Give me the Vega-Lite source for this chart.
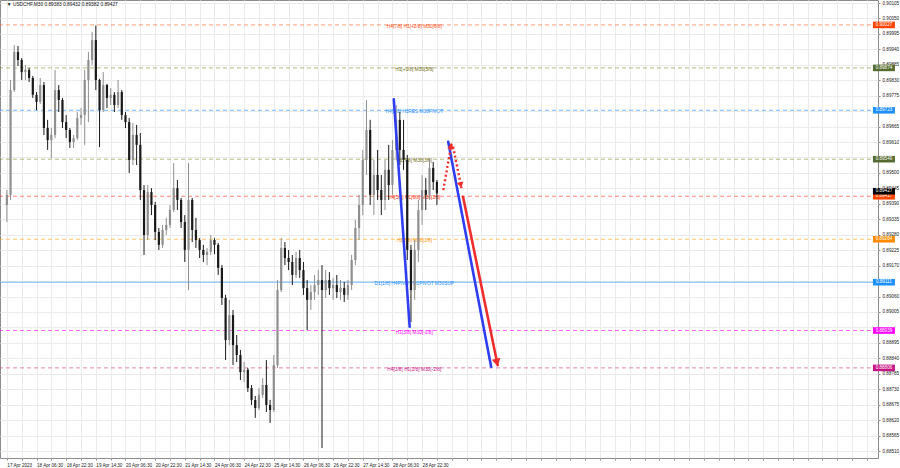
{
  "$schema": "https://vega.github.io/schema/vega-lite/v6.json",
  "width": 878,
  "height": 458,
  "autosize": {"type": "none"},
  "padding": {"left": 0, "top": 0, "right": 22, "bottom": 10},
  "background": "white",
  "config": {"view": {"stroke": "#8c8c8c", "strokeWidth": 1}, "font": "Liberation Sans", "axis": {"labelOverlap": false, "labelFontSize": 4.6, "labelFont": "Liberation Sans", "labelColor": "#222222", "tickCount": 200}},
  "datasets": {
    "levels": [
      {"name": "L1", "p": 0.90027, "label": "H4[7/8] H1[+2/8] M30[6/8]"},
      {"name": "L2", "p": 0.89874, "label": "H1[+1/8] M30[5/8]"},
      {"name": "L3", "p": 0.89723, "label": "H4[6/8] H1RES M30PIVOT"},
      {"name": "L4", "p": 0.89549, "label": "H1[7/8] M30[3/8]"},
      {"name": "L5", "p": 0.89417, "label": "H4[5/8] H1[6/8] M30[2/8]"},
      {"name": "L6", "p": 0.89264, "label": "H1[5/8] M30[1/8]"},
      {"name": "L7", "p": 0.89111, "label": "D1[1/8] H4PIVOT H1PIVOT M30SUP"},
      {"name": "L8", "p": 0.88939, "label": "H1[3/8] M30[-1/8]"},
      {"name": "L9", "p": 0.88806, "label": "H4[3/8] H1[2/8] M30[-2/8]"}
    ],
    "tags": [
      {"name": "L1", "p": 0.90027},
      {"name": "L2", "p": 0.89874},
      {"name": "L3", "p": 0.89723},
      {"name": "L4", "p": 0.89549},
      {"name": "L5", "p": 0.89417},
      {"name": "L6", "p": 0.89264},
      {"name": "L7", "p": 0.89111},
      {"name": "L8", "p": 0.88939},
      {"name": "L9", "p": 0.88806}
    ],
    "cur": [
      {"name": "CUR", "p": 0.89427}
    ],
    "candles": [
      {"x": 2, "o": 0.89386, "h": 0.89439, "l": 0.89325, "c": 0.89422},
      {"x": 6, "o": 0.89422, "h": 0.89831, "l": 0.89404, "c": 0.89795},
      {"x": 10, "o": 0.89795, "h": 0.89955, "l": 0.89788, "c": 0.89931},
      {"x": 14, "o": 0.89931, "h": 0.89952, "l": 0.89881, "c": 0.89902},
      {"x": 18, "o": 0.89902, "h": 0.89909, "l": 0.89831, "c": 0.89859},
      {"x": 22, "o": 0.89859, "h": 0.89884, "l": 0.89831, "c": 0.89867},
      {"x": 26, "o": 0.89867, "h": 0.89874, "l": 0.89824, "c": 0.89838},
      {"x": 30, "o": 0.89838, "h": 0.89845, "l": 0.89767, "c": 0.89778},
      {"x": 34, "o": 0.89778, "h": 0.89788, "l": 0.89724, "c": 0.89753},
      {"x": 38, "o": 0.89753, "h": 0.89838, "l": 0.89745, "c": 0.89813},
      {"x": 42, "o": 0.89813, "h": 0.89824, "l": 0.89635, "c": 0.89660},
      {"x": 46, "o": 0.89660, "h": 0.89689, "l": 0.89582, "c": 0.89617},
      {"x": 50, "o": 0.89617, "h": 0.89660, "l": 0.89553, "c": 0.89635},
      {"x": 54, "o": 0.89635, "h": 0.89867, "l": 0.89624, "c": 0.89795},
      {"x": 58, "o": 0.89795, "h": 0.89813, "l": 0.89717, "c": 0.89760},
      {"x": 62, "o": 0.89760, "h": 0.89767, "l": 0.89660, "c": 0.89681},
      {"x": 66, "o": 0.89681, "h": 0.89706, "l": 0.89624, "c": 0.89653},
      {"x": 70, "o": 0.89653, "h": 0.89660, "l": 0.89589, "c": 0.89610},
      {"x": 74, "o": 0.89610, "h": 0.89635, "l": 0.89589, "c": 0.89624},
      {"x": 78, "o": 0.89624, "h": 0.89717, "l": 0.89617, "c": 0.89696},
      {"x": 82, "o": 0.89696, "h": 0.89731, "l": 0.89671, "c": 0.89706},
      {"x": 86, "o": 0.89706, "h": 0.89867, "l": 0.89600, "c": 0.89831},
      {"x": 90, "o": 0.89831, "h": 0.89931, "l": 0.89681, "c": 0.89902},
      {"x": 94, "o": 0.89902, "h": 0.90002, "l": 0.89884, "c": 0.89973},
      {"x": 98, "o": 0.89973, "h": 0.90025, "l": 0.89795, "c": 0.89831},
      {"x": 102, "o": 0.89831, "h": 0.89835, "l": 0.89592, "c": 0.89724},
      {"x": 106, "o": 0.89724, "h": 0.89859, "l": 0.89717, "c": 0.89813},
      {"x": 110, "o": 0.89813, "h": 0.89817, "l": 0.89731, "c": 0.89767},
      {"x": 114, "o": 0.89767, "h": 0.89802, "l": 0.89742, "c": 0.89778},
      {"x": 118, "o": 0.89778, "h": 0.89788, "l": 0.89717, "c": 0.89742},
      {"x": 122, "o": 0.89742, "h": 0.89831, "l": 0.89731, "c": 0.89788},
      {"x": 126, "o": 0.89788, "h": 0.89795, "l": 0.89689, "c": 0.89706},
      {"x": 130, "o": 0.89706, "h": 0.89717, "l": 0.89660, "c": 0.89681},
      {"x": 134, "o": 0.89681, "h": 0.89696, "l": 0.89500, "c": 0.89546},
      {"x": 138, "o": 0.89546, "h": 0.89678, "l": 0.89528, "c": 0.89635},
      {"x": 142, "o": 0.89635, "h": 0.89671, "l": 0.89528, "c": 0.89600},
      {"x": 146, "o": 0.89600, "h": 0.89642, "l": 0.89404, "c": 0.89439},
      {"x": 150, "o": 0.89439, "h": 0.89457, "l": 0.89208, "c": 0.89279},
      {"x": 154, "o": 0.89279, "h": 0.89457, "l": 0.89261, "c": 0.89432},
      {"x": 158, "o": 0.89432, "h": 0.89446, "l": 0.89350, "c": 0.89386},
      {"x": 162, "o": 0.89386, "h": 0.89397, "l": 0.89261, "c": 0.89290},
      {"x": 166, "o": 0.89290, "h": 0.89304, "l": 0.89226, "c": 0.89244},
      {"x": 170, "o": 0.89244, "h": 0.89315, "l": 0.89233, "c": 0.89297},
      {"x": 174, "o": 0.89297, "h": 0.89340, "l": 0.89279, "c": 0.89315},
      {"x": 178, "o": 0.89315, "h": 0.89386, "l": 0.89304, "c": 0.89368},
      {"x": 182, "o": 0.89368, "h": 0.89535, "l": 0.89361, "c": 0.89446},
      {"x": 186, "o": 0.89446, "h": 0.89475, "l": 0.89368, "c": 0.89404},
      {"x": 190, "o": 0.89404, "h": 0.89411, "l": 0.89304, "c": 0.89325},
      {"x": 194, "o": 0.89325, "h": 0.89350, "l": 0.89183, "c": 0.89226},
      {"x": 198, "o": 0.89226, "h": 0.89535, "l": 0.89083, "c": 0.89404},
      {"x": 202, "o": 0.89404, "h": 0.89411, "l": 0.89254, "c": 0.89297},
      {"x": 206, "o": 0.89297, "h": 0.89340, "l": 0.89233, "c": 0.89261},
      {"x": 210, "o": 0.89261, "h": 0.89268, "l": 0.89197, "c": 0.89226},
      {"x": 214, "o": 0.89226, "h": 0.89244, "l": 0.89183, "c": 0.89208},
      {"x": 218, "o": 0.89208, "h": 0.89233, "l": 0.89172, "c": 0.89219},
      {"x": 222, "o": 0.89219, "h": 0.89279, "l": 0.89208, "c": 0.89261},
      {"x": 226, "o": 0.89261, "h": 0.89268, "l": 0.89211, "c": 0.89244},
      {"x": 230, "o": 0.89244, "h": 0.89251, "l": 0.89137, "c": 0.89162},
      {"x": 234, "o": 0.89162, "h": 0.89172, "l": 0.89030, "c": 0.89055},
      {"x": 238, "o": 0.89055, "h": 0.89066, "l": 0.88834, "c": 0.88905},
      {"x": 242, "o": 0.88905, "h": 0.89048, "l": 0.88887, "c": 0.88994},
      {"x": 246, "o": 0.88994, "h": 0.89012, "l": 0.88816, "c": 0.88887},
      {"x": 250, "o": 0.88887, "h": 0.88923, "l": 0.88827, "c": 0.88852},
      {"x": 254, "o": 0.88852, "h": 0.88870, "l": 0.88763, "c": 0.88791},
      {"x": 258, "o": 0.88791, "h": 0.88827, "l": 0.88756, "c": 0.88799},
      {"x": 262, "o": 0.88799, "h": 0.88806, "l": 0.88720, "c": 0.88734},
      {"x": 266, "o": 0.88734, "h": 0.88745, "l": 0.88674, "c": 0.88692},
      {"x": 270, "o": 0.88692, "h": 0.88706, "l": 0.88628, "c": 0.88663},
      {"x": 274, "o": 0.88663, "h": 0.88734, "l": 0.88656, "c": 0.88710},
      {"x": 278, "o": 0.88710, "h": 0.88770, "l": 0.88699, "c": 0.88745},
      {"x": 282, "o": 0.88745, "h": 0.88834, "l": 0.88649, "c": 0.88674},
      {"x": 286, "o": 0.88674, "h": 0.88692, "l": 0.88610, "c": 0.88656},
      {"x": 290, "o": 0.88656, "h": 0.88852, "l": 0.88649, "c": 0.88816},
      {"x": 294, "o": 0.88816, "h": 0.89119, "l": 0.88806, "c": 0.89083},
      {"x": 298, "o": 0.89083, "h": 0.89268, "l": 0.89076, "c": 0.89233},
      {"x": 302, "o": 0.89233, "h": 0.89254, "l": 0.89172, "c": 0.89197},
      {"x": 306, "o": 0.89197, "h": 0.89226, "l": 0.89154, "c": 0.89183},
      {"x": 310, "o": 0.89183, "h": 0.89208, "l": 0.89101, "c": 0.89137},
      {"x": 314, "o": 0.89137, "h": 0.89219, "l": 0.89126, "c": 0.89197},
      {"x": 318, "o": 0.89197, "h": 0.89226, "l": 0.89126, "c": 0.89154},
      {"x": 322, "o": 0.89154, "h": 0.89183, "l": 0.89066, "c": 0.89090},
      {"x": 326, "o": 0.89090, "h": 0.89119, "l": 0.88941, "c": 0.89048},
      {"x": 330, "o": 0.89048, "h": 0.89101, "l": 0.89012, "c": 0.89076},
      {"x": 334, "o": 0.89076, "h": 0.89137, "l": 0.89048, "c": 0.89101},
      {"x": 338, "o": 0.89101, "h": 0.89154, "l": 0.89066, "c": 0.89119},
      {"x": 342, "o": 0.89119, "h": 0.89172, "l": 0.88521, "c": 0.89083},
      {"x": 346, "o": 0.89083, "h": 0.89154, "l": 0.89055, "c": 0.89119},
      {"x": 350, "o": 0.89119, "h": 0.89147, "l": 0.89066, "c": 0.89090},
      {"x": 354, "o": 0.89090, "h": 0.89126, "l": 0.89048, "c": 0.89101},
      {"x": 358, "o": 0.89101, "h": 0.89137, "l": 0.89055, "c": 0.89076},
      {"x": 362, "o": 0.89076, "h": 0.89119, "l": 0.89048, "c": 0.89090},
      {"x": 366, "o": 0.89090, "h": 0.89112, "l": 0.89041, "c": 0.89066},
      {"x": 370, "o": 0.89066, "h": 0.89119, "l": 0.89048, "c": 0.89101},
      {"x": 374, "o": 0.89101, "h": 0.89208, "l": 0.89083, "c": 0.89190},
      {"x": 378, "o": 0.89190, "h": 0.89333, "l": 0.89172, "c": 0.89304},
      {"x": 382, "o": 0.89304, "h": 0.89422, "l": 0.89261, "c": 0.89386},
      {"x": 386, "o": 0.89386, "h": 0.89582, "l": 0.89350, "c": 0.89546},
      {"x": 390, "o": 0.89546, "h": 0.89760, "l": 0.89493, "c": 0.89653},
      {"x": 394, "o": 0.89653, "h": 0.89689, "l": 0.89386, "c": 0.89422},
      {"x": 398, "o": 0.89422, "h": 0.89546, "l": 0.89350, "c": 0.89493},
      {"x": 402, "o": 0.89493, "h": 0.89582, "l": 0.89404, "c": 0.89439},
      {"x": 406, "o": 0.89439, "h": 0.89493, "l": 0.89350, "c": 0.89404},
      {"x": 410, "o": 0.89404, "h": 0.89546, "l": 0.89368, "c": 0.89511},
      {"x": 414, "o": 0.89511, "h": 0.89600, "l": 0.89404, "c": 0.89457},
      {"x": 418, "o": 0.89457, "h": 0.89617, "l": 0.89422, "c": 0.89582},
      {"x": 422, "o": 0.89582, "h": 0.89742, "l": 0.89546, "c": 0.89689},
      {"x": 426, "o": 0.89689, "h": 0.89717, "l": 0.89528, "c": 0.89582},
      {"x": 430, "o": 0.89582, "h": 0.89689, "l": 0.89511, "c": 0.89546},
      {"x": 434, "o": 0.89546, "h": 0.89564, "l": 0.89190, "c": 0.89226},
      {"x": 438, "o": 0.89226, "h": 0.89244, "l": 0.88969, "c": 0.89083},
      {"x": 442, "o": 0.89083, "h": 0.89261, "l": 0.89048, "c": 0.89226},
      {"x": 446, "o": 0.89226, "h": 0.89404, "l": 0.89183, "c": 0.89368},
      {"x": 450, "o": 0.89368, "h": 0.89493, "l": 0.89315, "c": 0.89439},
      {"x": 454, "o": 0.89439, "h": 0.89482, "l": 0.89368, "c": 0.89422},
      {"x": 458, "o": 0.89422, "h": 0.89546, "l": 0.89404, "c": 0.89518},
      {"x": 462, "o": 0.89518, "h": 0.89539, "l": 0.89439, "c": 0.89468},
      {"x": 466, "o": 0.89468, "h": 0.89475, "l": 0.89386, "c": 0.89427}
    ],
    "lines": [
      {"id": "b1", "x": 419.5, "p": 0.89762, "x2": 436.6, "p2": 0.88953},
      {"id": "b2", "x": 478.2, "p": 0.89611, "x2": 524.5, "p2": 0.88810},
      {"id": "r1", "x": 494.2, "p": 0.89415, "x2": 531.5, "p2": 0.88816}
    ],
    "dotted": [
      {"id": "r2", "x": 472.9, "p": 0.89439, "x2": 481.8, "p2": 0.89607},
      {"id": "r3", "x": 483.5, "p": 0.89593, "x2": 492.5, "p2": 0.89446}
    ],
    "arrows": [
      {"id": "r1", "dir": "down", "x": 530.7, "p": 0.88825},
      {"id": "r2", "dir": "up", "x": 481.3, "p": 0.89596},
      {"id": "r3", "dir": "down", "x": 491.7, "p": 0.89457}
    ]
  },
  "layer": [
    {
      "data": {"name": "levels"},
      "mark": {"type": "rule", "strokeWidth": 1, "opacity": 0.6},
      "encoding": {
        "y": {
          "field": "p", "type": "quantitative", "title": null,
          "scale": {"domain": [0.884852, 0.901157], "nice": false, "zero": false},
          "axis": {
            "orient": "right", "title": null, "tickCount": 200,
            "values": [0.90105, 0.9005, 0.89995, 0.8994, 0.89885, 0.8983, 0.89775, 0.8972, 0.89665, 0.8961, 0.89555, 0.895, 0.89445, 0.8939, 0.89335, 0.8928, 0.89225, 0.8917, 0.89115, 0.8906, 0.89005, 0.8895, 0.88895, 0.8884, 0.88785, 0.8873, 0.88675, 0.8862, 0.88565, 0.8851],
            "labelExpr": "(abs(datum.value - 0.8972) < 0.00001 || abs(datum.value - 0.89555) < 0.00001 || abs(datum.value - 0.89115) < 0.00001 || abs(datum.value - 0.8895) < 0.00001) ? '' : format(datum.value, '.5f')",
            "labelFontSize": 4.6, "labelColor": "#222222", "labelPadding": 2, "labelFont": "Liberation Sans",
            "tickSize": 2, "tickColor": "#8c8c8c", "domain": false,
            "grid": true, "gridColor": "#ebebeb", "gridWidth": 1, "labelOverlap": false
          }
        },
        "stroke": {
          "field": "name", "type": "nominal", "legend": null,
          "scale": {"domain": ["L1", "L2", "L3", "L4", "L5", "L6", "L7", "L8", "L9"],
                    "range": ["#ff5a1f", "#8a8a30", "#1e90ff", "#8a8a30", "#ff3b1f", "#ffa000", "#1e90ff", "#ff00ff", "#d63384"]}
        },
        "strokeDash": {"condition": {"test": "datum.name == 'L7'", "value": [1, 0]}, "value": [4, 3]}
      }
    },
    {
      "data": {"name": "levels"},
      "mark": {"type": "text", "fontSize": 4.8, "align": "center", "baseline": "middle", "dy": 2, "font": "Liberation Sans"},
      "encoding": {
        "x": {"datum": 441.6, "type": "quantitative", "scale": {"domain": [0, 936.5], "nice": false, "zero": false}},
        "y": {"field": "p", "type": "quantitative", "title": null, "scale": {"domain": [0.884852, 0.901157], "nice": false, "zero": false}},
        "text": {"field": "label"},
        "color": {
          "field": "name", "type": "nominal", "legend": null,
          "scale": {"domain": ["L1", "L2", "L3", "L4", "L5", "L6", "L7", "L8", "L9"],
                    "range": ["#ff4a10", "#6f6f20", "#1e90ff", "#6f6f20", "#ff3010", "#ff9500", "#1e90ff", "#ff00ff", "#c71585"]}
        }
      }
    },
    {
      "data": {"name": "candles"},
      "mark": {"type": "rule", "strokeWidth": 1},
      "encoding": {
        "x": {
          "field": "x", "type": "quantitative", "title": null,
          "scale": {"domain": [0, 936.5], "nice": false, "zero": false},
          "axis": {
            "title": null, "tickCount": 200,
            "values": [2, 18, 34, 50, 66, 82, 98, 114, 130, 146, 162, 178, 194, 210, 226, 242, 258, 274, 290, 306, 322, 338, 354, 370, 386, 402, 418, 434, 450, 466, 482, 498, 514, 530, 546, 562, 578, 594, 610, 626, 642, 658, 674, 690, 706, 722, 738, 754, 770, 786, 802, 818, 834, 850, 866, 882, 898, 914, 930],
            "labelExpr": "datum.value <= 450 && (datum.value - 2) % 32 == 0 ? ['17 Apr 2023','18 Apr 06:30','18 Apr 22:30','19 Apr 14:30','20 Apr 06:30','20 Apr 22:30','21 Apr 14:30','24 Apr 06:30','24 Apr 22:30','25 Apr 14:30','26 Apr 06:30','26 Apr 22:30','27 Apr 14:30','28 Apr 06:30','28 Apr 22:30'][(datum.value - 2) / 32] : ''",
            "labelAlign": "left", "labelFontSize": 4.6, "labelColor": "#222222", "labelPadding": 2, "labelFont": "Liberation Sans",
            "tickSize": 2, "tickColor": "#8c8c8c", "domain": false,
            "grid": true, "gridColor": "#ebebeb", "gridWidth": 1, "labelOverlap": false
          }
        },
        "y": {"field": "l", "type": "quantitative", "title": null, "scale": {"domain": [0.884852, 0.901157], "nice": false, "zero": false}},
        "y2": {"field": "h"},
        "color": {"condition": {"test": "datum.c >= datum.o", "value": "#8f8f8f"}, "value": "#1a1a1a"}
      }
    },
    {
      "data": {"name": "candles"},
      "mark": {"type": "bar", "width": 2.2},
      "encoding": {
        "x": {"field": "x", "type": "quantitative", "title": null, "scale": {"domain": [0, 936.5], "nice": false, "zero": false}},
        "y": {"field": "o", "type": "quantitative", "title": null, "scale": {"domain": [0.884852, 0.901157], "nice": false, "zero": false}},
        "y2": {"field": "c"},
        "color": {"condition": {"test": "datum.c >= datum.o", "value": "#8f8f8f"}, "value": "#1a1a1a"}
      }
    },
    {
      "data": {"values": [{"t": "▼ USDCHF,M30  0.89383 0.89432 0.89382 0.89427"}]},
      "mark": {"type": "text", "fontSize": 4.8, "align": "left", "baseline": "middle", "color": "#111111", "font": "Liberation Sans"},
      "encoding": {
        "x": {"datum": 2, "type": "quantitative", "scale": {"domain": [0, 936.5], "nice": false, "zero": false}},
        "y": {"datum": 0.90098, "type": "quantitative", "scale": {"domain": [0.884852, 0.901157], "nice": false, "zero": false}},
        "text": {"field": "t"}
      }
    },
    {
      "data": {"name": "lines"},
      "mark": {"type": "rule", "strokeWidth": 2.6, "strokeCap": "round"},
      "encoding": {
        "x": {"field": "x", "type": "quantitative", "title": null, "scale": {"domain": [0, 936.5], "nice": false, "zero": false}},
        "x2": {"field": "x2"},
        "y": {"field": "p", "type": "quantitative", "title": null, "scale": {"domain": [0.884852, 0.901157], "nice": false, "zero": false}},
        "y2": {"field": "p2"},
        "color": {"condition": {"test": "datum.id == 'r1'", "value": "#f02d2d"}, "value": "#2f3ff0"}
      }
    },
    {
      "data": {"name": "dotted"},
      "mark": {"type": "rule", "strokeWidth": 2.4, "strokeDash": [2, 2.5], "color": "#f02d2d"},
      "encoding": {
        "x": {"field": "x", "type": "quantitative", "title": null, "scale": {"domain": [0, 936.5], "nice": false, "zero": false}},
        "x2": {"field": "x2"},
        "y": {"field": "p", "type": "quantitative", "title": null, "scale": {"domain": [0.884852, 0.901157], "nice": false, "zero": false}},
        "y2": {"field": "p2"}
      }
    },
    {
      "data": {"name": "arrows"},
      "transform": [{"filter": "datum.dir == 'up'"}],
      "mark": {"type": "point", "shape": "triangle-up", "filled": true, "opacity": 1, "color": "#f02d2d", "angle": 10, "size": 45},
      "encoding": {
        "x": {"field": "x", "type": "quantitative", "title": null, "scale": {"domain": [0, 936.5], "nice": false, "zero": false}},
        "y": {"field": "p", "type": "quantitative", "title": null, "scale": {"domain": [0.884852, 0.901157], "nice": false, "zero": false}}
      }
    },
    {
      "data": {"name": "arrows"},
      "transform": [{"filter": "datum.dir == 'down'"}],
      "mark": {"type": "point", "shape": "triangle-down", "filled": true, "opacity": 1, "color": "#f02d2d", "angle": 348},
      "encoding": {
        "x": {"field": "x", "type": "quantitative", "title": null, "scale": {"domain": [0, 936.5], "nice": false, "zero": false}},
        "y": {"field": "p", "type": "quantitative", "title": null, "scale": {"domain": [0.884852, 0.901157], "nice": false, "zero": false}},
        "size": {"condition": {"test": "datum.id == 'r1'", "value": 80}, "value": 45}
      }
    },
    {
      "data": {"name": "tags"},
      "mark": {"type": "point", "shape": "M-1,-0.3H1V0.3H-1Z", "size": 484, "filled": true, "opacity": 1, "strokeWidth": 0},
      "encoding": {
        "x": {"datum": 948.3, "type": "quantitative", "scale": {"domain": [0, 936.5], "nice": false, "zero": false}},
        "y": {"field": "p", "type": "quantitative", "title": null, "scale": {"domain": [0.884852, 0.901157], "nice": false, "zero": false}},
        "fill": {
          "field": "name", "type": "nominal", "legend": null,
          "scale": {"domain": ["L1", "L2", "L3", "L4", "L5", "L6", "L7", "L8", "L9"],
                    "range": ["#ff4500", "#556b2f", "#1e90ff", "#556b2f", "#ff4500", "#ff8c00", "#1e90ff", "#ff00ff", "#c71585"]}
        }
      }
    },
    {
      "data": {"name": "tags"},
      "mark": {"type": "text", "fontSize": 4.6, "align": "center", "baseline": "middle", "color": "#ffffff", "font": "Liberation Sans"},
      "encoding": {
        "x": {"datum": 948.3, "type": "quantitative", "scale": {"domain": [0, 936.5], "nice": false, "zero": false}},
        "y": {"field": "p", "type": "quantitative", "title": null, "scale": {"domain": [0.884852, 0.901157], "nice": false, "zero": false}},
        "text": {"field": "p", "format": ".5f"}
      }
    },
    {
      "data": {"name": "cur"},
      "mark": {"type": "point", "shape": "M-1,-0.3H1V0.3H-1Z", "size": 484, "filled": true, "opacity": 1, "strokeWidth": 0, "fill": "#000000", "yOffset": -2.2},
      "encoding": {
        "x": {"datum": 948.3, "type": "quantitative", "scale": {"domain": [0, 936.5], "nice": false, "zero": false}},
        "y": {"field": "p", "type": "quantitative", "title": null, "scale": {"domain": [0.884852, 0.901157], "nice": false, "zero": false}}
      }
    },
    {
      "data": {"name": "cur"},
      "mark": {"type": "text", "fontSize": 4.6, "align": "center", "baseline": "middle", "color": "#ffffff", "font": "Liberation Sans", "yOffset": -2.2},
      "encoding": {
        "x": {"datum": 948.3, "type": "quantitative", "scale": {"domain": [0, 936.5], "nice": false, "zero": false}},
        "y": {"field": "p", "type": "quantitative", "title": null, "scale": {"domain": [0.884852, 0.901157], "nice": false, "zero": false}},
        "text": {"field": "p", "format": ".5f"}
      }
    }
  ]
}
